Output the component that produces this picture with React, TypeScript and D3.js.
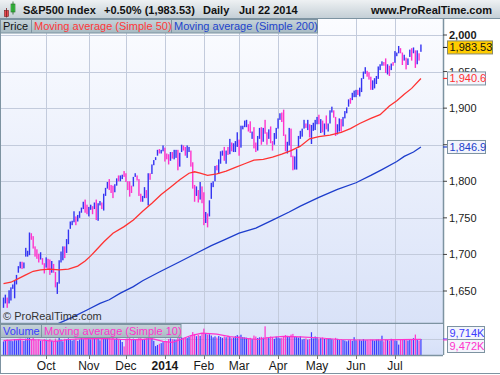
import React from "react"
import * as d3 from "d3"

// S&P500 daily bars, 28 Aug 2013 .. 22 Jul 2014 (trading day index 0..225)
const highs = [
  1641, 1645, 1641,
  1651, 1655, 1659, 1664, 1672, 1684, 1690, 1690, 1689, 1709, 1705, 1730, 1729, 1725, 1711, 1707, 1701, 1703, 1695, 1688,
  1696, 1694, 1693, 1691, 1687, 1676, 1662, 1692, 1704, 1711, 1711, 1721, 1734, 1745, 1746, 1759, 1752, 1754, 1759, 1764, 1772, 1775, 1768,
  1765, 1768, 1766, 1771, 1775, 1770, 1773, 1771, 1783, 1791, 1799, 1803, 1795, 1794, 1796, 1804, 1808, 1808, 1809, 1814,
  1811, 1800, 1800, 1794, 1806, 1811, 1808, 1803, 1783, 1780, 1792, 1788, 1811, 1811, 1823, 1829, 1833, 1843, 1844, 1843, 1849,
  1846, 1838, 1837, 1840, 1840, 1843, 1843, 1843, 1839, 1850, 1849, 1847, 1849, 1847, 1842, 1826, 1795, 1793, 1788, 1799, 1793,
  1785, 1758, 1756, 1774, 1798, 1800, 1821, 1822, 1830, 1841, 1842, 1847, 1842, 1847, 1858, 1853, 1852, 1855, 1867,
  1857, 1876, 1876, 1883, 1884, 1878, 1882, 1868, 1874, 1853, 1862, 1873, 1874, 1873, 1884, 1867, 1871, 1875, 1855, 1866, 1873,
  1886, 1893, 1894, 1898, 1864, 1854, 1873, 1872, 1835, 1834, 1844, 1862, 1869, 1872, 1884, 1879, 1884, 1878, 1877, 1880, 1884,
  1888, 1891, 1885, 1883, 1879, 1890, 1879, 1897, 1902, 1897, 1888, 1878, 1886, 1885, 1888, 1896, 1901, 1912, 1914, 1921, 1924,
  1925, 1925, 1928, 1941, 1950, 1956, 1951, 1949, 1943, 1938, 1941, 1944, 1957, 1960, 1964, 1963, 1968, 1960, 1958, 1961, 1963,
  1978, 1976, 1985, 1982, 1976, 1973, 1969, 1968, 1980, 1982, 1983, 1979, 1979, 1975, 1987,
]
const lows = [
  1627, 1633, 1627,
  1633, 1637, 1653, 1640, 1659, 1675, 1681, 1680, 1681, 1697, 1697, 1699, 1720, 1708, 1697, 1694, 1689, 1693, 1686, 1674,
  1682, 1680, 1672, 1675, 1675, 1655, 1646, 1660, 1689, 1692, 1695, 1702, 1714, 1735, 1740, 1744, 1740, 1745, 1750, 1757, 1762, 1757, 1755,
  1752, 1761, 1755, 1762, 1747, 1746, 1767, 1762, 1760, 1780, 1790, 1788, 1784, 1777, 1785, 1794, 1800, 1800, 1803, 1806,
  1799, 1788, 1779, 1784, 1793, 1806, 1801, 1780, 1772, 1772, 1777, 1777, 1767, 1802, 1810, 1822, 1829, 1835, 1838, 1838, 1841,
  1827, 1830, 1823, 1828, 1831, 1830, 1832, 1815, 1820, 1840, 1842, 1835, 1832, 1840, 1820, 1790, 1772, 1780, 1771, 1775, 1770,
  1740, 1743, 1737, 1752, 1776, 1792, 1800, 1815, 1810, 1824, 1835, 1828, 1824, 1836, 1837, 1841, 1840, 1840, 1847,
  1835, 1846, 1871, 1874, 1874, 1868, 1866, 1858, 1845, 1840, 1842, 1858, 1850, 1854, 1865, 1850, 1858, 1852, 1842, 1850, 1858,
  1872, 1884, 1881, 1862, 1841, 1838, 1849, 1833, 1815, 1816, 1816, 1846, 1858, 1861, 1872, 1873, 1870, 1860, 1851, 1869, 1870,
  1878, 1878, 1866, 1867, 1863, 1871, 1868, 1879, 1894, 1887, 1862, 1864, 1868, 1868, 1875, 1886, 1893, 1902, 1906, 1911, 1915,
  1915, 1918, 1916, 1922, 1940, 1947, 1943, 1939, 1925, 1925, 1927, 1933, 1940, 1952, 1958, 1958, 1948, 1946, 1944, 1952, 1958,
  1962, 1971, 1975, 1975, 1959, 1965, 1953, 1959, 1970, 1965, 1975, 1955, 1960, 1965, 1977,
]
const closes = [
  1634, 1638, 1633,
  1639, 1653, 1655, 1655, 1671, 1684, 1690, 1683, 1688, 1698, 1705, 1725, 1722, 1710, 1702, 1697, 1693, 1699, 1692, 1682,
  1695, 1694, 1678, 1691, 1676, 1656, 1656, 1692, 1703, 1710, 1698, 1721, 1734, 1744, 1744, 1755, 1747, 1752, 1759, 1762, 1772, 1763, 1757,
  1762, 1767, 1763, 1771, 1747, 1770, 1771, 1768, 1783, 1791, 1798, 1792, 1787, 1782, 1795, 1804, 1802, 1802, 1807, 1806,
  1800, 1796, 1793, 1785, 1805, 1808, 1802, 1782, 1775, 1775, 1786, 1781, 1811, 1810, 1818, 1828, 1833, 1842, 1841, 1841, 1848,
  1832, 1831, 1826, 1838, 1837, 1837, 1842, 1819, 1838, 1848, 1845, 1838, 1843, 1844, 1828, 1790, 1782, 1792, 1774, 1794, 1783,
  1742, 1755, 1752, 1774, 1797, 1800, 1820, 1819, 1829, 1838, 1840, 1829, 1839, 1836, 1847, 1845, 1845, 1854, 1859,
  1845, 1873, 1873, 1877, 1878, 1877, 1867, 1868, 1846, 1841, 1858, 1872, 1860, 1872, 1866, 1857, 1865, 1852, 1849, 1857, 1872,
  1885, 1890, 1888, 1865, 1845, 1851, 1872, 1833, 1815, 1830, 1842, 1862, 1864, 1871, 1879, 1875, 1878, 1863, 1869, 1878, 1883,
  1883, 1881, 1884, 1868, 1878, 1875, 1878, 1896, 1897, 1888, 1870, 1878, 1885, 1873, 1888, 1892, 1900, 1911, 1909, 1921, 1924,
  1925, 1924, 1927, 1940, 1950, 1951, 1950, 1943, 1930, 1937, 1938, 1942, 1957, 1959, 1963, 1962, 1949, 1959, 1957, 1961, 1960,
  1973, 1974, 1985, 1977, 1964, 1973, 1964, 1967, 1977, 1973, 1981, 1958, 1978, 1973, 1983,
]
// volume in thousands
const volumes = [
  8200, 8600, 9400,
  9000, 8800, 8400, 9600, 8900, 9300, 9800, 8700, 8500, 9900, 10200, 11800, 9400, 15200, 9100, 8800, 9500, 8700, 8900, 9700,
  9300, 9100, 9800, 8700, 8200, 9900, 8600, 11200, 9400, 8300, 9800, 9500, 10100, 9700, 8800, 9200, 9900, 8600, 9400, 10300, 9600, 10400, 10800,
  10200, 9500, 10100, 9800, 11400, 10600, 8900, 9800, 10300, 9900, 10900, 10500, 9800, 10700, 9600, 10200, 9300, 9100, 7900, 5200,
  9800, 10100, 10600, 9400, 9900, 9200, 9800, 10400, 10300, 9600, 9800, 10200, 12100, 10800, 14600, 8600, 5400, 6100, 6800, 7200, 7800,
  7900, 8300, 9700, 10100, 9600, 9400, 9300, 10900, 10100, 10700, 9800, 10600, 10300, 10900, 11600, 13900, 12800, 11400, 12200, 11600, 13100,
  16000, 13300, 12400, 12600, 11800, 10700, 11300, 10600, 11500, 10900, 10400, 11200, 10800, 11700, 10900, 10200, 10600, 11400, 12100,
  11600, 12300, 10900, 10700, 10500, 9800, 10400, 9600, 11800, 11200, 10300, 10700, 11000, 10600, 17400, 10800, 10500, 11200, 10900, 9800, 11100,
  10700, 10200, 10400, 11400, 12100, 11600, 11300, 12400, 12800, 11200, 10900, 10600, 11300, 9400, 9800, 10100, 9300, 9700, 13800, 10100, 11200,
  10800, 9500, 10300, 10600, 9700, 10300, 9900, 10100, 9600, 9300, 10400, 9800, 9200, 9600, 9100, 8800, 8300, 8900, 9200, 8600, 10800,
  9000, 8800, 9300, 8700, 9600, 8900, 9100, 8800, 9400, 9200, 8700, 9300, 9500, 8900, 11700, 8300, 9400, 9100, 8600, 9800, 9500,
  8900, 8700, 6300, 9100, 9600, 9200, 9000, 8800, 9400, 9600, 10200, 12400, 9100, 8800, 9714,
]

const monthLabels = ["Oct", "Nov", "Dec", "2014", "Feb", "Mar", "Apr", "May", "Jun", "Jul"]
const monthStarts = [23, 46, 66, 87, 108, 127, 148, 169, 190, 211]
const priceTicks = [1650, 1700, 1750, 1800, 1850, 1900, 1950, 2000]
// 1,850 sits fully under the 200-day value box, so its label is not printed
const hiddenTickLabels = [1850]

// moving averages
const ma50Days = [0, 4, 8, 12, 16, 20, 25, 30, 35, 40, 44, 47, 50, 54, 59, 65, 70, 75, 80, 85, 90, 95, 100, 103, 106, 110, 115, 120, 125, 130, 135, 140, 145, 150, 155, 160, 165, 170, 176, 182, 187, 192, 198, 203, 208, 212, 216, 220, 225]
const ma50 = [1660, 1662, 1667, 1672, 1677, 1679, 1680, 1679, 1680, 1684, 1691, 1698, 1706, 1717, 1729, 1738, 1747, 1759, 1770, 1782, 1792, 1802, 1811, 1813, 1811, 1808, 1810, 1814, 1819, 1824, 1829, 1830, 1833, 1837, 1842, 1848, 1858, 1861, 1863, 1867, 1872, 1879, 1886, 1891, 1903, 1910, 1919, 1927, 1940.6]
const ma200Days = [25, 30, 37, 45, 52, 57, 63, 70, 75, 84, 95, 105, 112, 119, 127, 136, 145, 154, 160, 170, 180, 190, 198, 204, 212, 216, 221, 225]
const ma200 = [1600, 1606, 1614, 1624, 1633, 1638, 1647, 1656, 1664, 1676, 1690, 1703, 1712, 1720, 1729, 1736, 1747, 1758, 1766, 1778, 1789, 1798, 1808, 1816, 1827, 1834, 1840, 1846.9]
const volMaDays = [0, 9, 20, 28, 35, 41, 52, 63, 74, 80, 86, 91, 96, 101, 107, 115, 122, 129, 137, 143, 151, 160, 171, 181, 192, 203, 214, 225]
const volMa = [8700, 9500, 9100, 8300, 9400, 9800, 10100, 9500, 9300, 9900, 8300, 7600, 9600, 11800, 13300, 12700, 11200, 10300, 9400, 10600, 11300, 11000, 10300, 9400, 9100, 9200, 9300, 9472]

const FONT = "'Liberation Sans', Arial, Helvetica, sans-serif"
const UP = "#3434f2"
const DOWN = "#ff33cc"
const FRAME = "#7d93a1"

const PL = 1, PR = 443
const P_TOP = 19, P_BOT = 323
const V_TOP = 324, V_BOT = 355

function ValueBox({ y, w, text, color, fill }: { y: number; w: number; text: string; color: string; fill: string }) {
  return (
    <g>
      <line x1={PR} x2={448} y1={y} y2={y} stroke={color} strokeWidth={1.2} />
      <rect x={447.5} y={y - 6.5} width={w} height={13} fill={fill} stroke={FRAME} strokeWidth={1} />
      <text x={449.5} y={y + 4} fontSize={11} fill={color}>{text}</text>
    </g>
  )
}

export default function App() {
  const x = d3.scaleLinear().domain([-1.35, 236.9]).range([PL, PR])
  const y = d3.scaleLinear().domain([1650, 2000]).range([291, 35])
  const yv = d3.scaleLinear().domain([0, 18800]).range([V_BOT, V_TOP])

  const colorOf = (i: number) => (i === 0 || closes[i] >= closes[i - 1] ? UP : DOWN)

  const ma50Line = d3.line<number>().x((_, k) => x(ma50Days[k])).y((d) => y(d))
  const ma200Line = d3.line<number>().x((_, k) => x(ma200Days[k])).y((d) => y(d))
  const volMaLine = d3.line<number>().x((_, k) => x(volMaDays[k])).y((d) => yv(d))

  const last = closes[closes.length - 1]

  return (
    <svg width={500} height={375} style={{ position: "absolute", left: 0, top: 0 }} fontFamily={FONT}>
      <defs>
        <linearGradient id="hdr" x1="0" y1="0" x2="0" y2="1">
          <stop offset="0" stopColor="#eef1f3" />
          <stop offset="1" stopColor="#c3ced5" />
        </linearGradient>
        <linearGradient id="plotBg" x1="0" y1="0" x2="0" y2="1">
          <stop offset="0" stopColor="#fbfcff" />
          <stop offset="1" stopColor="#d9e2f8" />
        </linearGradient>
        <linearGradient id="volBg" x1="0" y1="0" x2="0" y2="1">
          <stop offset="0" stopColor="#e2e9fb" />
          <stop offset="1" stopColor="#d6e0f8" />
        </linearGradient>
        <linearGradient id="leg" x1="0" y1="0" x2="0" y2="1">
          <stop offset="0" stopColor="#c6d3d9" />
          <stop offset="1" stopColor="#a7bac3" />
        </linearGradient>
        <clipPath id="priceClip">
          <rect x={PL} y={P_TOP} width={PR - PL} height={P_BOT - P_TOP} />
        </clipPath>
        <clipPath id="volClip">
          <rect x={PL} y={V_TOP} width={PR - PL} height={V_BOT - V_TOP} />
        </clipPath>
      </defs>

      <rect width={500} height={375} fill="#ffffff" />

      {/* header */}
      <rect x={0} y={0} width={500} height={18.5} fill="url(#hdr)" />
      <line x1={0} x2={500} y1={18.5} y2={18.5} stroke={FRAME} />
      <rect x={4.5} y={10.5} width={4} height={6} fill="#e8474f" stroke="#7a2020" strokeWidth={0.6} />
      <line x1={6.5} x2={6.5} y1={8} y2={17.5} stroke="#7a2020" strokeWidth={0.8} />
      <rect x={11} y={4} width={4} height={8} fill="#3fd24a" stroke="#1e6a22" strokeWidth={0.6} />
      <line x1={13} x2={13} y1={1.5} y2={14.5} stroke="#1e6a22" strokeWidth={0.8} />
      <g fontSize={11} fontWeight="bold" fill="#111">
        <text x={23} y={13.5}>S&amp;P500 Index</text>
        <text x={104} y={13.5}>+0.50% (1,983.53)</text>
        <text x={203} y={13.5}>Daily</text>
        <text x={239} y={13.5}>Jul 22 2014</text>
        <text x={492} y={13.5} textAnchor="end">www.ProRealTime.com</text>
      </g>

      {/* price panel */}
      <rect x={PL} y={P_TOP} width={PR - PL} height={P_BOT - P_TOP} fill="url(#plotBg)" />
      <g stroke="#c3cbdc" strokeWidth={1}>
        {priceTicks.map((t) => (
          <line key={t} x1={PL} x2={PR} y1={Math.round(y(t)) + 0.5} y2={Math.round(y(t)) + 0.5} />
        ))}
        {monthStarts.map((m) => (
          <line key={m} x1={Math.round(x(m)) + 0.5} x2={Math.round(x(m)) + 0.5} y1={P_TOP} y2={P_BOT} />
        ))}
      </g>
      <g clipPath="url(#priceClip)">
        {highs.map((h, i) => (
          <rect key={i} x={x(i) - 0.7} width={1.4} y={y(h)} height={y(lows[i]) - y(h)} fill={colorOf(i)} />
        ))}
        <path d={ma50Line(ma50) ?? ""} fill="none" stroke="#ff3232" strokeWidth={1.3} />
        <path d={ma200Line(ma200) ?? ""} fill="none" stroke="#1d3dcc" strokeWidth={1.3} />
      </g>
      <text x={3} y={319.5} fontSize={11} fill="#333">© ProRealTime.com</text>

      {/* price legend */}
      <rect x={0.5} y={19.5} width={317} height={13.5} fill="url(#leg)" stroke={FRAME} />
      <line x1={31.5} x2={31.5} y1={19.5} y2={33} stroke={FRAME} />
      <line x1={171.5} x2={171.5} y1={19.5} y2={33} stroke={FRAME} />
      <text x={3} y={30} fontSize={11} fill="#111">Price</text>
      <text x={34} y={30} fontSize={11} fill="#ff3838">Moving average (Simple 50)</text>
      <text x={174} y={30} fontSize={11} fill="#2244cc">Moving average (Simple 200)</text>

      {/* price axis */}
      <line x1={PR + 0.5} x2={PR + 0.5} y1={P_TOP} y2={V_BOT} stroke={FRAME} strokeWidth={1.5} />
      {priceTicks.map((t) => (
        <g key={t}>
          <line x1={PR} x2={447} y1={y(t)} y2={y(t)} stroke="#444" />
          {!hiddenTickLabels.includes(t) && (
            <text x={449} y={y(t) + 4} fontSize={11} fontWeight={t === 2000 ? "bold" : "normal"} fill="#1a1a1a">
              {d3.format(",")(t)}
            </text>
          )}
        </g>
      ))}
      <ValueBox y={y(1940.6)} w={38} text="1,940.6" color="#ff3030" fill="#f3f5fc" />
      <ValueBox y={y(1846.9)} w={38} text="1,846.9" color="#2040cc" fill="#f3f5fc" />
      <g>
        <line x1={PR} x2={448} y1={y(last)} y2={y(last)} stroke="#111" />
        <rect x={447.5} y={y(last) - 6.5} width={45} height={13} fill="#ffcc00" stroke="#8a8a6a" />
        <text x={449.5} y={y(last) + 4} fontSize={11} fill="#111">1,983.53</text>
      </g>

      {/* volume panel */}
      <line x1={0} x2={PR} y1={P_BOT + 0.5} y2={P_BOT + 0.5} stroke={FRAME} strokeWidth={1.5} />
      <rect x={PL} y={V_TOP} width={PR - PL} height={V_BOT - V_TOP} fill="url(#volBg)" />
      <g stroke="#c3cbdc">
        <line x1={PL} x2={PR} y1={Math.round(yv(10000)) + 0.5} y2={Math.round(yv(10000)) + 0.5} />
        {monthStarts.map((m) => (
          <line key={m} x1={Math.round(x(m)) + 0.5} x2={Math.round(x(m)) + 0.5} y1={V_TOP} y2={V_BOT} />
        ))}
      </g>
      <g clipPath="url(#volClip)">
        {volumes.map((v, i) => (
          <rect key={i} x={x(i) - 0.6} width={1.2} y={yv(v)} height={yv(0) - yv(v)} fill={colorOf(i) === UP ? "#3b3bff" : DOWN} />
        ))}
        <path d={volMaLine(volMa) ?? ""} fill="none" stroke="#ff33cc" strokeWidth={1.2} />
      </g>
      <rect x={0.5} y={V_TOP + 0.5} width={180.5} height={13} fill="url(#leg)" stroke={FRAME} />
      <line x1={41.5} x2={41.5} y1={V_TOP + 0.5} y2={V_TOP + 13.5} stroke={FRAME} />
      <text x={3} y={V_TOP + 11} fontSize={11} fill="#3b3bff">Volume</text>
      <text x={44} y={V_TOP + 11} fontSize={11} fill="#ff33cc">Moving average (Simple 10)</text>
      <line x1={0} x2={PR} y1={V_BOT + 0.5} y2={V_BOT + 0.5} stroke={FRAME} strokeWidth={1.5} />

      {/* volume value labels */}
      <line x1={PR} x2={448} y1={yv(9714)} y2={yv(9714)} stroke="#3b3bff" />
      <line x1={PR} x2={448} y1={yv(9472) + 0.6} y2={yv(9472) + 0.6} stroke="#ff33cc" />
      <rect x={447.5} y={326.5} width={37} height={13} fill="#f3f5fc" stroke={FRAME} />
      <text x={449.5} y={337} fontSize={11} fill="#3b3bff">9,714K</text>
      <rect x={447.5} y={339.5} width={37} height={13} fill="#f3f5fc" stroke={FRAME} />
      <text x={449.5} y={350} fontSize={11} fill="#ff33cc">9,472K</text>

      {/* time axis */}
      {monthStarts.map((m, k) => (
        <g key={m}>
          <line x1={Math.round(x(m)) + 0.5} x2={Math.round(x(m)) + 0.5} y1={V_BOT} y2={359} stroke="#777" />
          <text
            x={x(m)}
            y={369.5}
            textAnchor="middle"
            fontSize={12}
            fontWeight={monthLabels[k] === "2014" ? "bold" : "normal"}
            fill="#1a1a1a"
          >
            {monthLabels[k]}
          </text>
        </g>
      ))}

      {/* outer frame */}
      <line x1={0.5} x2={0.5} y1={18.5} y2={374} stroke={FRAME} />
      <line x1={0} x2={500} y1={373.5} y2={373.5} stroke={FRAME} />
    </svg>
  )
}
